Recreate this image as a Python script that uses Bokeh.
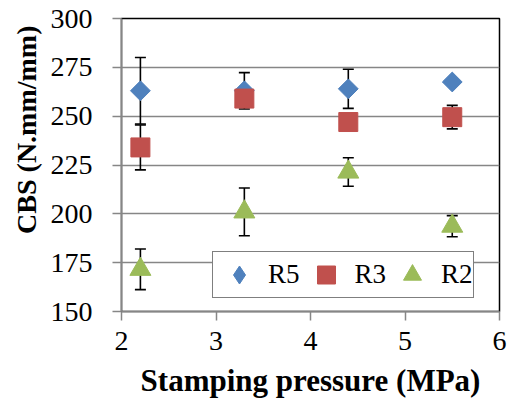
import math
from bokeh.plotting import figure
from bokeh.models import (Range1d, ColumnDataSource, Legend, LegendItem,
                          FixedTicker, Title)
from bokeh.embed import file_html
from bokeh.resources import INLINE

# ---- data ----
pressure = [2.2, 3.3, 4.4, 5.5]
r5 = [263, 263, 264, 267.5]
r5_err = [17, 9.3, 10, 1]
r3 = [234, 259, 247, 249.5]
r3_err = [11.5, 3, 3, 6]
r2 = [171.6, 201, 221.4, 193.7]
r2_err = [10.4, 12.2, 7.3, 5.4]
series_names = ["R5", "R3", "R2"]
x_ticks = [2, 3, 4, 5, 6]
y_ticks = [150, 175, 200, 225, 250, 275, 300]
x_title = "Stamping pressure (MPa)"
y_title = "CBS (N.mm/mm)"

BLUE = "#4F81BD"
RED = "#C0504D"
GREEN = "#9BBB59"
GRID = "#868686"
SERIF = "Liberation Serif"

p = figure(width=508, height=409, output_backend="svg", toolbar_location=None,
           x_range=Range1d(2, 6), y_range=Range1d(150, 300),
           min_border_left=121, min_border_right=9, min_border_top=18,
           min_border_bottom=98)

p.outline_line_color = "black"
p.outline_line_width = 1.5

p.xgrid.visible = False
p.ygrid.grid_line_color = GRID
p.ygrid.grid_line_width = 1.3

for ax in (p.xaxis, p.yaxis):
    ax.axis_line_color = GRID
    ax.axis_line_width = 1.5
    ax.major_tick_line_color = GRID
    ax.major_tick_line_width = 1.5
    ax.major_tick_in = 0
    ax.major_tick_out = 9
    ax.minor_tick_line_color = None
    ax.major_label_text_font = SERIF
    ax.major_label_text_font_size = "28px"
    ax.major_label_text_color = "black"
    ax.axis_label_text_font = SERIF
    ax.axis_label_text_font_style = "bold"
    ax.axis_label_text_color = "black"

p.xaxis.ticker = FixedTicker(ticks=x_ticks)
p.yaxis.ticker = FixedTicker(ticks=y_ticks)
p.xaxis.major_label_standoff = 11
p.yaxis.major_label_standoff = 20
p.xaxis.axis_label = x_title
p.xaxis.axis_label_text_font_size = "31px"
p.xaxis.axis_label_standoff = 10

# y title as a left-side Title anchored near the top of the frame
p.add_layout(Title(text=y_title, align="right", offset=7, standoff=12,
                   text_font=SERIF, text_font_style="bold",
                   text_font_size="28px", text_color="black"), "left")

# error bars (drawn first, so markers sit on top)
for vals, errs in ((r5, r5_err), (r3, r3_err), (r2, r2_err)):
    lo = [v - e for v, e in zip(vals, errs)]
    hi = [v + e for v, e in zip(vals, errs)]
    src = ColumnDataSource(dict(x=pressure, lo=lo, hi=hi))
    p.segment(x0="x", y0="lo", x1="x", y1="hi", source=src,
              line_color="black", line_width=1.6)
    p.scatter(x="x", y="lo", source=src, marker="dash", size=11,
              line_color="black", line_width=1.6)
    p.scatter(x="x", y="hi", source=src, marker="dash", size=11,
              line_color="black", line_width=1.6)

r5_r = p.scatter(pressure, r5, marker="square", angle=math.pi / 4, size=14,
                 fill_color=BLUE, line_color=BLUE)
r3_r = p.scatter(pressure, r3, marker="square", size=19,
                 fill_color=RED, line_color=RED)
r2_r = p.scatter(pressure, r2, marker="triangle", size=21,
                 fill_color=GREEN, line_color=GREEN)

# legend-only diamond glyph (its single point lies outside the ranges)
r5_leg = p.scatter(x=[-100], y=[-100], marker="diamond",
                   fill_color=BLUE, line_color=BLUE)

legend = Legend(items=[LegendItem(label=series_names[0], renderers=[r5_leg]),
                       LegendItem(label=series_names[1], renderers=[r3_r]),
                       LegendItem(label=series_names[2], renderers=[r2_r])],
                orientation="horizontal", location=(91, 13), margin=0,
                padding=0, spacing=0, glyph_width=52, glyph_height=45,
                label_standoff=3, label_text_font=SERIF,
                label_text_font_size="27px", label_text_color="black",
                border_line_color="black", border_line_width=1.5,
                background_fill_color="white", background_fill_alpha=1)
p.add_layout(legend, "center")

open("out.html", "w").write(file_html(p, INLINE))
